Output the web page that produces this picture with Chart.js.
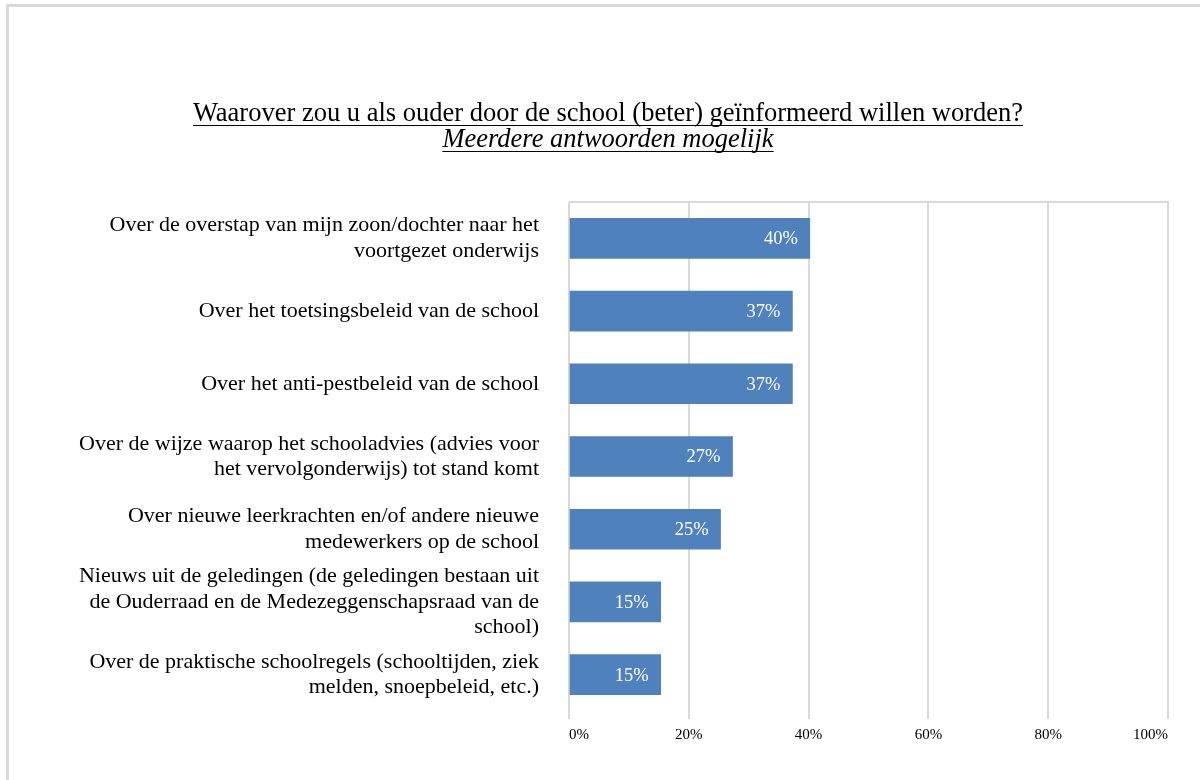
<!DOCTYPE html>
<html>
<head>
<meta charset="utf-8">
<script src="https://cdn.jsdelivr.net/npm/chart.js@4/dist/chart.umd.min.js"></script>
<style>
  body { margin: 0; background: #fff; }
  #wrap { position: relative; width: 1200px; height: 780px; overflow: hidden; }
  #frame { position: absolute; left: 6px; top: 4px; width: 1300px; height: 900px;
           border-left: 3px solid #d9d9d9; border-top: 3px solid #d9d9d9; box-sizing: border-box; }
  canvas { position: absolute; left: 0; top: 0; }
</style>
</head>
<body>
<div id="wrap">
  <div id="frame"></div>
  <canvas id="myChart" width="1200" height="780"></canvas>
</div>
<script>
const titleText = "Waarover zou u als ouder door de school (beter) geïnformeerd willen worden?";
const subtitleText = "Meerdere antwoorden mogelijk";

const categories = [
  ["Over de overstap van mijn zoon/dochter naar het", "voortgezet onderwijs"],
  "Over het toetsingsbeleid van de school",
  "Over het anti-pestbeleid van de school",
  ["Over de wijze waarop het schooladvies (advies voor", "het vervolgonderwijs) tot stand komt"],
  ["Over nieuwe leerkrachten en/of andere nieuwe", "medewerkers op de school"],
  ["Nieuws uit de geledingen (de geledingen bestaan uit", "de Ouderraad en de Medezeggenschapsraad van de", "school)"],
  ["Over de praktische schoolregels (schooltijden, ziek", "melden, snoepbeleid, etc.)"],
];

const values = [40.2, 37.3, 37.3, 27.3, 25.3, 15.3, 15.3];

const xTicks = [0, 20, 40, 60, 80, 100];

const serif = "'Liberation Serif', 'Times New Roman', serif";

// title with underline, drawn on the canvas
const titlePlugin = {
  id: "titleLines",
  afterDraw(chart) {
    const ctx = chart.ctx;
    const cx = 608;
    ctx.save();
    ctx.fillStyle = "#000";
    ctx.strokeStyle = "#000";
    ctx.lineWidth = 1;
    ctx.textAlign = "center";
    ctx.textBaseline = "alphabetic";

    ctx.font = "26.5px " + serif;
    let w = ctx.measureText(titleText).width;
    ctx.fillText(titleText, cx, 121);
    ctx.beginPath();
    ctx.moveTo(cx - w / 2, 125.5);
    ctx.lineTo(cx + w / 2, 125.5);
    ctx.stroke();

    ctx.font = "italic 26.5px " + serif;
    w = ctx.measureText(subtitleText).width;
    ctx.fillText(subtitleText, cx, 147);
    ctx.beginPath();
    ctx.moveTo(cx - w / 2, 151.5);
    ctx.lineTo(cx + w / 2, 151.5);
    ctx.stroke();
    ctx.restore();
  },
};

// top border of plot area
const topLine = {
  id: "topLine",
  beforeDatasetsDraw(chart) {
    const a = chart.chartArea;
    const ctx = chart.ctx;
    ctx.save();
    ctx.strokeStyle = "#d9d9d9";
    ctx.lineWidth = 2;
    ctx.beginPath();
    ctx.moveTo(a.left, a.top);
    ctx.lineTo(a.right + 1, a.top);
    ctx.stroke();
    ctx.restore();
  },
};

// value labels inside bar ends
const barLabels = {
  id: "barLabels",
  afterDatasetsDraw(chart) {
    const ctx = chart.ctx;
    const meta = chart.getDatasetMeta(0);
    ctx.save();
    ctx.fillStyle = "#fff";
    ctx.font = "18.5px " + serif;
    ctx.textAlign = "right";
    ctx.textBaseline = "middle";
    meta.data.forEach(function (bar, i) {
      ctx.fillText(Math.round(values[i]) + "%", bar.x - 12, bar.y + 1);
    });
    ctx.restore();
  },
};

const data = {
  labels: categories,
  datasets: [
    {
      data: values,
      backgroundColor: "#4f81bd",
      borderWidth: 0,
      barThickness: 40,
    },
  ],
};

const config = {
  type: "bar",
  data,
  options: {
    indexAxis: "y",
    responsive: false,
    animation: false,
    layout: { padding: { top: 202, bottom: 19, left: 0, right: 32 } },
    plugins: {
      legend: { display: false },
      tooltip: { enabled: false },
    },
    scales: {
      x: {
        min: 0,
        max: 100,
        afterBuildTicks(scale) {
          scale.ticks = xTicks.map((v) => ({ value: v }));
        },
        afterFit(scale) {
          scale.height = 50;
        },
        border: { display: false },
        grid: { color: "#d9d9d9", lineWidth: 2, tickLength: 8 },
        ticks: {
          color: "#000",
          padding: 7,
          align: "inner",
          font: { family: serif, size: 15 },
          callback: (v) => v + "%",
        },
      },
      y: {
        afterFit(scale) {
          scale.width = 569;
        },
        border: { display: false },
        grid: { display: false },
        ticks: {
          color: "#000",
          padding: 22,
          autoSkip: false,
          font: { family: serif, size: 22, lineHeight: 1.16 },
        },
      },
    },
  },
  plugins: [titlePlugin, topLine, barLabels],
};

const myChart = new Chart(document.getElementById("myChart"), config);
</script>
</body>
</html>
